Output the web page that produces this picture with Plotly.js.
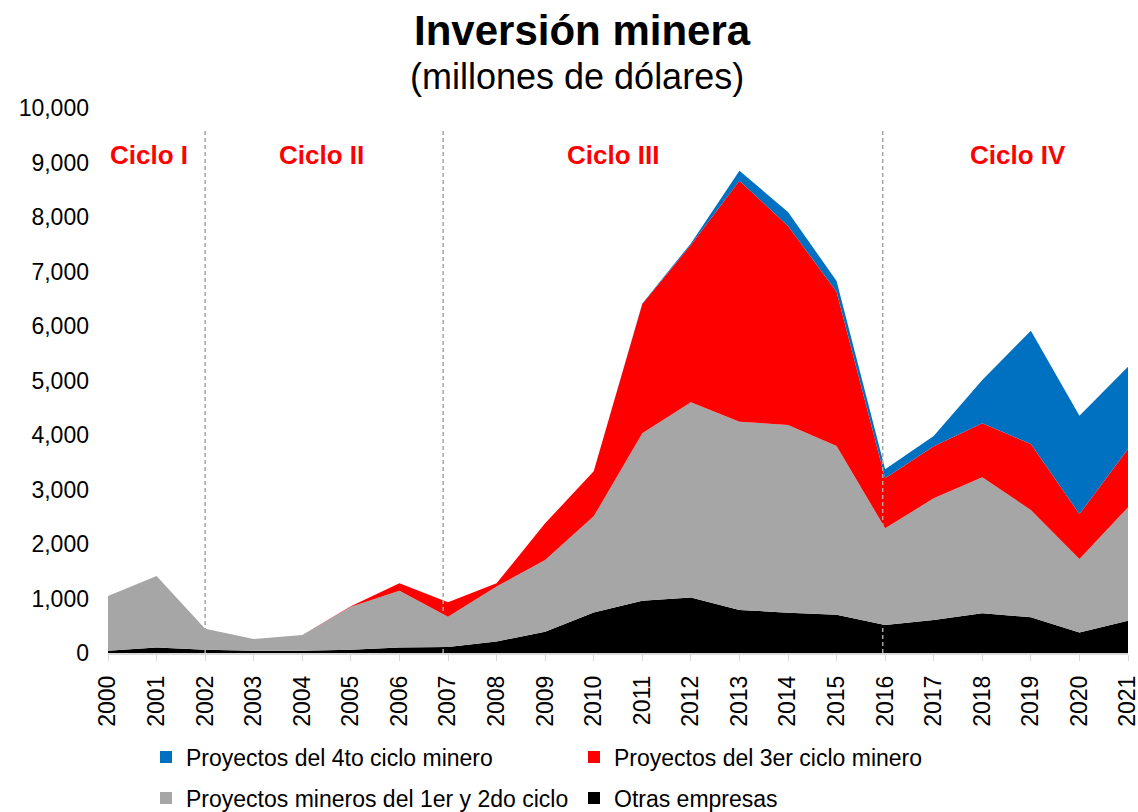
<!DOCTYPE html>
<html>
<head>
<meta charset="utf-8">
<script src="https://cdn.plot.ly/plotly-3.0.1.min.js"></script>
<style>html,body{margin:0;padding:0;background:#fff;}#chart{width:1138px;height:812px;}</style>
</head>
<body>
<div id="chart"></div>
<script>
const years = [2000,2001,2002,2003,2004,2005,2006,2007,2008,2009,2010,2011,2012,2013,2014,2015,2016,2017,2018,2019,2020,2021];
const otrasEmpresas = [40,100,60,40,40,60,100,110,210,390,745,960,1020,790,740,700,515,605,730,655,375,590];
const ciclo1y2 = [1005,1313,386,217,290,790,1043,556,1008,1316,1762,3071,3580,3455,3443,3098,1773,2233,2493,1969,1350,2083];
const ciclo3 = [0,0,0,0,0,10,135,264,60,674,826,2373,2886,4422,3652,2832,917,954,991,1211,825,1070];
const ciclo4 = [0,0,0,0,0,0,0,0,0,0,0,10,30,183,257,196,165,190,795,2079,1804,1511];
const seriesNames = ["Proyectos del 4to ciclo minero","Proyectos del 3er ciclo minero","Proyectos mineros del 1er y 2do ciclo","Otras empresas"];
const cycleLabels = ["Ciclo I","Ciclo II","Ciclo III","Ciclo IV"];
const cycleLabelX = [2000.84,2004.4,2010.4,2018.74];
const cycleBounds = [2002,2006.9,2015.95];
const titleText = "Inversión minera";
const subtitleText = "(millones de dólares)";

const colors = {c4:"#0070C0", c3:"#FF0000", c12:"#A6A6A6", otras:"#000000"};
const FONT = "Liberation Sans, Arial, sans-serif";

function area(y, name, color){
  return {x: years, y: y, name: name, type: "scatter", mode: "none", stackgroup: "one",
    fill: "tonexty", fillcolor: color, line: {width: 0}, showlegend: false, hoverinfo: "x+y+name"};
}
function legendBar(name, color, leg){
  return {x: [null], y: [null], type: "bar", name: name, marker: {color: color},
    legend: leg, showlegend: true, hoverinfo: "skip"};
}

const data = [
  area(otrasEmpresas, seriesNames[3], colors.otras),
  area(ciclo1y2, seriesNames[2], colors.c12),
  area(ciclo3, seriesNames[1], colors.c3),
  area(ciclo4, seriesNames[0], colors.c4),
  legendBar(seriesNames[0], colors.c4, "legend"),
  legendBar(seriesNames[1], colors.c3, "legend"),
  legendBar(seriesNames[2], colors.c12, "legend2"),
  legendBar(seriesNames[3], colors.otras, "legend2")
];

// plot area: y=0 at 653px, y=10000 at 108px -> paper y = (653 - px)/545
const shapes = cycleBounds.map(b => ({type:"line", xref:"x", yref:"y", x0:b, x1:b, y0:0, y1:9630,
  line:{color:"#A6A6A6", width:1.5, dash:"4px,3px"}, layer:"above"}));
const annotations = cycleLabels.map((t,i) => ({x: cycleLabelX[i], y: 9140, xref:"x", yref:"y", text: "<b>"+t+"</b>",
  showarrow:false, yanchor:"middle", font:{family:FONT, size:26, color:"#FF0000"}}));
annotations.push({x: (582-108)/1020, xref:"paper", y: (653-30)/545, yref:"paper", text:"<b>"+titleText+"</b>",
  showarrow:false, xanchor:"center", yanchor:"middle", font:{family:FONT, size:42, color:"#000"}});
annotations.push({x: (577-108)/1020, xref:"paper", y: (653-77)/545, yref:"paper", text: subtitleText,
  showarrow:false, xanchor:"center", yanchor:"middle", font:{family:FONT, size:36, color:"#000"}});

const legCommon = {orientation:"h", font:{family:FONT, size:23, color:"#000"}, bgcolor:"rgba(0,0,0,0)",
  entrywidth: 383, entrywidthmode:"pixels", xanchor:"left", yanchor:"middle", yref:"container", xref:"container",
  traceorder:"normal", itemclick:false};

const layout = {
  width: 1138, height: 812,
  margin: {l:108, r:10, t:108, b:159, autoexpand:false},
  paper_bgcolor:"#fff", plot_bgcolor:"#fff",
  font: {family: FONT, size: 20, color: "#000"},
  xaxis: {range:[2000,2021], tickmode:"array", tickvals: years, ticktext: years.map(String), tickangle:-90,
    ticks:"outside", ticklen:6, tickcolor:"#D9D9D9", showline:true, linecolor:"#D9D9D9", linewidth:1.5,
    ticklabeloverflow:"allow", ticklabelstandoff:6,
    showgrid:false, zeroline:false, tickfont:{family:FONT, size:23, color:"#000"}, fixedrange:true},
  yaxis: {range:[0,10000], tickmode:"linear", tick0:0, dtick:1000, tickformat:",d", showgrid:false,
    zeroline:false, showline:false, ticks:"", ticklabelstandoff:18, tickfont:{family:FONT, size:23, color:"#000"}, fixedrange:true},
  showlegend: true,
  legend: Object.assign({}, legCommon, {x: 146/1138, y: 1-757/812}),
  legend2: Object.assign({}, legCommon, {x: 146/1138, y: 1-798/812}),
  shapes: shapes,
  annotations: annotations,
  barmode: "overlay"
};

Plotly.newPlot("chart", data, layout, {displayModeBar:false, staticPlot:true});
</script>
</body>
</html>
